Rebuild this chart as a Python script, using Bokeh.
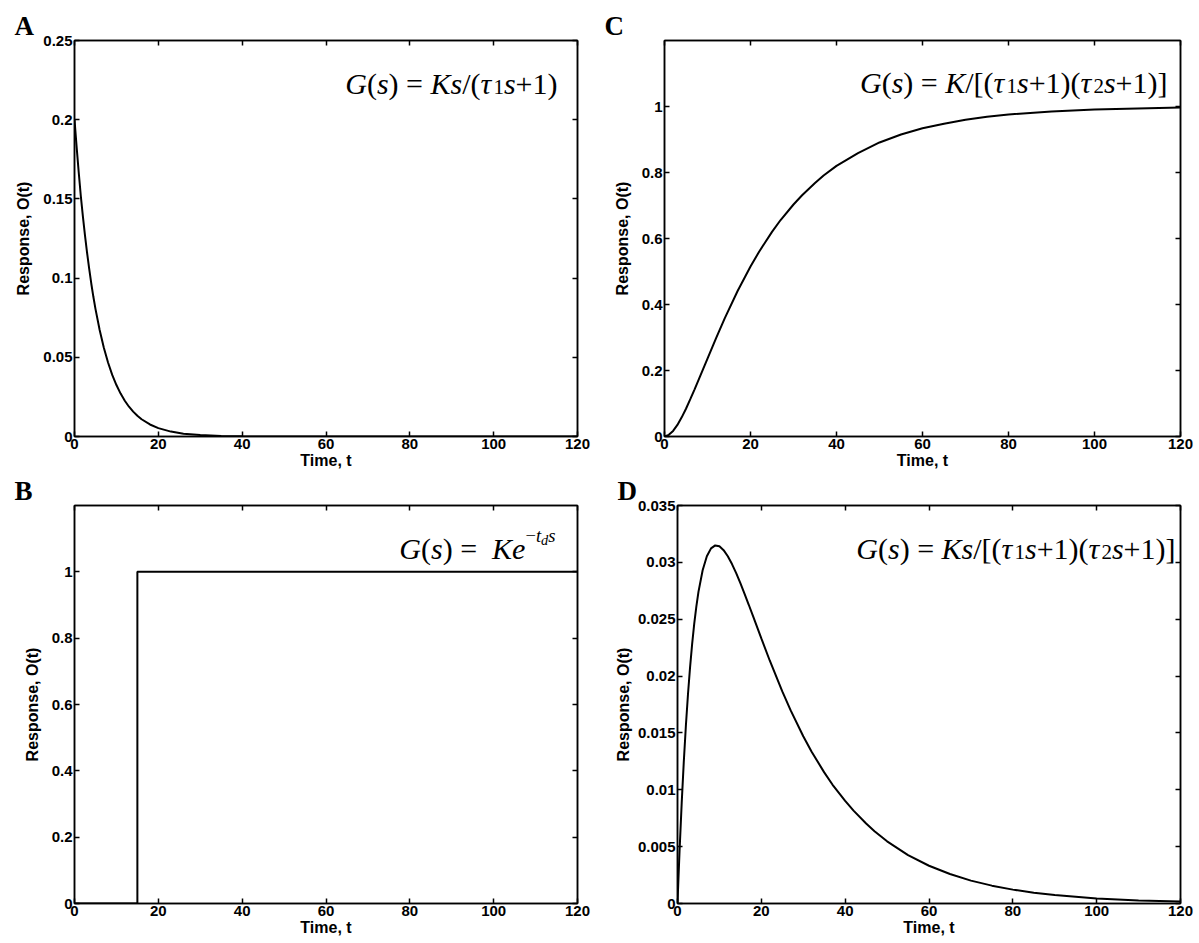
from bokeh.plotting import figure
from bokeh.models import Range1d, FixedTicker, LinearAxis, Label
from bokeh.layouts import column, row
from bokeh.embed import file_html
from bokeh.resources import INLINE

# ---------------- data ----------------
x_ticks = [0, 20, 40, 60, 80, 100, 120]
x_tick_labels = ["0", "20", "40", "60", "80", "100", "120"]

# Panel A: G(s) = Ks/(tau1 s + 1)
tA = [0, 0.5, 1, 1.5, 2, 2.5, 3, 3.5, 4, 4.5, 5, 6, 7, 8, 9, 10, 11, 12, 13, 14, 15, 16, 18,
      20, 23, 26, 30, 35, 40, 50, 120]
yA = [0.200, 0.183, 0.167, 0.152, 0.139, 0.127, 0.116, 0.106, 0.0966, 0.0882, 0.0806,
      0.0672, 0.0560, 0.0467, 0.0389, 0.0325, 0.0271, 0.0226, 0.0188, 0.0157, 0.0131,
      0.0109, 0.0076, 0.0053, 0.0031, 0.0018, 0.0009, 0.0003, 0.0001, 0.0, 0.0]
yA_ticks = [0, 0.05, 0.1, 0.15, 0.2, 0.25]
yA_labels = ["0", "0.05", "0.1", "0.15", "0.2", "0.25"]

# Panel B: G(s) = K e^{-td s}  (delayed step)
tB = [0, 15, 15, 120]
yB = [0, 0, 1, 1]
yB_ticks = [0, 0.2, 0.4, 0.6, 0.8, 1]
yB_labels = ["0", "0.2", "0.4", "0.6", "0.8", "1"]

# Panel C: G(s) = K/[(tau1 s+1)(tau2 s+1)]
tC = [0, 1, 2, 3, 4, 5, 6, 7, 8, 9, 10, 12, 14, 17, 20, 22, 25, 27, 30, 32, 35, 37, 40,
      45, 50, 55, 60, 65, 70, 75, 80, 90, 100, 110, 120]
yC = [0, 0.005, 0.017, 0.035, 0.058, 0.084, 0.113, 0.143, 0.174, 0.205, 0.236, 0.298,
      0.358, 0.441, 0.515, 0.560, 0.620, 0.656, 0.703, 0.731, 0.768, 0.791, 0.820, 0.859,
      0.891, 0.915, 0.934, 0.948, 0.960, 0.969, 0.976, 0.985, 0.991, 0.994, 0.997]
yC_ticks = [0, 0.2, 0.4, 0.6, 0.8, 1]
yC_labels = ["0", "0.2", "0.4", "0.6", "0.8", "1"]

# Panel D: G(s) = Ks/[(tau1 s+1)(tau2 s+1)]
tD = [0, 0.25, 0.5, 1, 1.5, 2, 2.5, 3, 3.5, 4, 4.5, 5, 6, 7, 8, 9, 10, 11, 12, 13, 14, 15,
      16, 17, 18, 20, 22, 25, 27, 30, 32, 35, 37, 40, 42, 45, 47, 50, 55, 60, 65, 70, 75,
      80, 85, 90, 100, 110, 120]
yD = [0, 0.00242, 0.0047, 0.00883, 0.01246, 0.01563, 0.0184, 0.02079, 0.02286, 0.02463,
      0.02613, 0.0274, 0.02931, 0.03054, 0.03123, 0.03149, 0.03141, 0.03107, 0.03054,
      0.02985, 0.02905, 0.02817, 0.02723, 0.02627, 0.02529, 0.02331, 0.02137, 0.01865,
      0.01698, 0.01471, 0.01335, 0.01153, 0.01044, 0.00902, 0.00817, 0.00703, 0.00636,
      0.00547, 0.00426, 0.00332, 0.00259, 0.00201, 0.00157, 0.00122, 0.00095, 0.00074,
      0.00045, 0.00027, 0.00017]
yD_ticks = [0, 0.005, 0.01, 0.015, 0.02, 0.025, 0.03, 0.035]
yD_labels = ["0", "0.005", "0.01", "0.015", "0.02", "0.025", "0.03", "0.035"]

# ---------------- helpers ----------------
SERIF = "Liberation Serif"
SANS = "Liberation Sans"

CW = {' ': 0.25, '(': 0.333, ')': 0.333, '=': 0.564, '/': 0.278, '+': 0.564, '1': 0.5,
      '2': 0.5, '[': 0.333, ']': 0.333, '\u2212': 0.564, 'G': 0.722, 's': 0.389,
      'K': 0.667, '\u03c4': 0.43, 't': 0.278, 'd': 0.5, 'e': 0.444}


def style_axis(ax, labels=True):
    ax.axis_line_width = 1.5
    ax.axis_line_color = "black"
    ax.major_tick_in = 5
    ax.major_tick_out = 0
    ax.major_tick_line_width = 1.5
    ax.major_tick_line_color = "black"
    ax.minor_tick_line_color = None
    ax.major_label_text_font = SANS
    ax.major_label_text_font_style = "bold"
    ax.major_label_standoff = 2
    if labels:
        ax.major_label_text_font_size = "15px"
        ax.major_label_text_color = "black"
    else:
        ax.major_label_text_font_size = "1px"
        ax.major_label_text_color = None
        ax.major_label_standoff = 0


def make_panel(letter, t, y, ymax, yticks, ylabels, fw, fh, left, right, top, bottom,
               ylab_standoff):
    p = figure(width=left + fw + right, height=top + fh + bottom,
               x_range=Range1d(0, 120), y_range=Range1d(0, ymax),
               output_backend="svg", toolbar_location=None,
               min_border_left=left, min_border_right=right,
               min_border_top=top, min_border_bottom=bottom)
    p.xgrid.visible = False
    p.ygrid.visible = False
    p.outline_line_color = "black"
    p.outline_line_width = 1.5
    p.background_fill_color = "white"
    p.border_fill_color = "white"

    # panel letter as the figure title, pushed left of the frame
    p.title.text = letter
    p.title.align = "left"
    p.title.offset = -60
    p.title.standoff = 0
    p.title.text_font = SERIF
    p.title.text_font_style = "bold"
    p.title.text_font_size = "27px"
    p.title.text_color = "black"

    xa = p.xaxis[0]
    ya = p.yaxis[0]
    xa.ticker = FixedTicker(ticks=x_ticks)
    xa.major_label_overrides = dict(zip(x_ticks, x_tick_labels))
    ya.ticker = FixedTicker(ticks=yticks)
    ya.major_label_overrides = dict(zip(yticks, ylabels))
    style_axis(xa)
    style_axis(ya)
    xa.axis_label = "Time, t"
    ya.axis_label = "Response, O(t)"
    for ax, st in ((xa, 0), (ya, ylab_standoff)):
        ax.axis_label_text_font = SANS
        ax.axis_label_text_font_style = "bold"
        ax.axis_label_text_font_size = "16px"
        ax.axis_label_standoff = st
        ax.axis_label_text_color = "black"

    top_ax = LinearAxis(ticker=FixedTicker(ticks=x_ticks))
    right_ax = LinearAxis(ticker=FixedTicker(ticks=yticks))
    style_axis(top_ax, labels=False)
    style_axis(right_ax, labels=False)
    p.add_layout(top_ax, "above")
    p.add_layout(right_ax, "right")

    p.line(t, y, line_width=2, line_color="black")
    return p


def add_formula(p, runs, right_px, base_from_top, fh, F=30):
    widths = [sum(CW.get(c, 0.5) for c in text) * F * sc for text, it, sc, dy in runs]
    x = right_px - sum(widths)
    for (text, italic, sc, dy), w in zip(runs, widths):
        lead = (len(text) - len(text.lstrip())) * CW[' '] * F * sc
        p.add_layout(Label(x=x + lead, y=fh - base_from_top + dy * F,
                           x_units="screen", y_units="screen",
                           text=text.strip(), text_font=SERIF,
                           text_font_style="italic" if italic else "normal",
                           text_font_size=f"{F * sc:.1f}px", text_color="black",
                           text_align="left", text_baseline="alphabetic"))
        x += w


I, R = True, False
SUB = 0.7
runs_A = [("G", I, 1, 0), ("(", R, 1, 0), ("s", I, 1, 0), (") = ", R, 1, 0), ("Ks", I, 1, 0),
          ("/(", R, 1, 0), ("\u03c4", I, 1, 0), ("1", R, SUB, -0.1), ("s", I, 1, 0),
          ("+1)", R, 1, 0)]
runs_C = [("G", I, 1, 0), ("(", R, 1, 0), ("s", I, 1, 0), (") = ", R, 1, 0), ("K", I, 1, 0),
          ("/[(", R, 1, 0), ("\u03c4", I, 1, 0), ("1", R, SUB, -0.1), ("s", I, 1, 0),
          ("+1)(", R, 1, 0), ("\u03c4", I, 1, 0), ("2", R, SUB, -0.1), ("s", I, 1, 0),
          ("+1)]", R, 1, 0)]
runs_D = [("G", I, 1, 0), ("(", R, 1, 0), ("s", I, 1, 0), (") = ", R, 1, 0), ("Ks", I, 1, 0),
          ("/[(", R, 1, 0), ("\u03c4", I, 1, 0), ("1", R, SUB, -0.1), ("s", I, 1, 0),
          ("+1)(", R, 1, 0), ("\u03c4", I, 1, 0), ("2", R, SUB, -0.1), ("s", I, 1, 0),
          ("+1)]", R, 1, 0)]
runs_B = [("G", I, 1, 0), ("(", R, 1, 0), ("s", I, 1, 0), (") =  ", R, 1, 0), ("Ke", I, 1, 0),
          ("\u2212", R, 0.62, 0.42), ("t", I, 0.62, 0.42), ("d", I, 0.48, 0.3),
          ("s", I, 0.62, 0.42)]

# ---------------- panels ----------------
FH_TOP = 396
FH_BOT = 398

pA = make_panel("A", tA, yA, 0.25, yA_ticks, yA_labels, 503, FH_TOP, 74, 23, 40, 37, 8)
pC = make_panel("C", tC, yC, 1.2, yC_ticks, yC_labels, 516, FH_TOP, 64, 19, 40, 37, 8)
pB = make_panel("B", tB, yB, 1.2, yB_ticks, yB_labels, 503, FH_BOT, 74, 23, 32, 40, 8)
pD = make_panel("D", tD, yD, 0.035, yD_ticks, yD_labels, 503, FH_BOT, 77, 19, 32, 40, 3)

add_formula(pA, runs_A, 483, 43, FH_TOP)
add_formula(pC, runs_C, 503, 42, FH_TOP)
add_formula(pB, runs_B, 481, 43, FH_BOT)
add_formula(pD, runs_D, 498, 43, FH_BOT)

layout = column(row(pA, pC), row(pB, pD))

open("out.html", "w").write(file_html(layout, INLINE))
